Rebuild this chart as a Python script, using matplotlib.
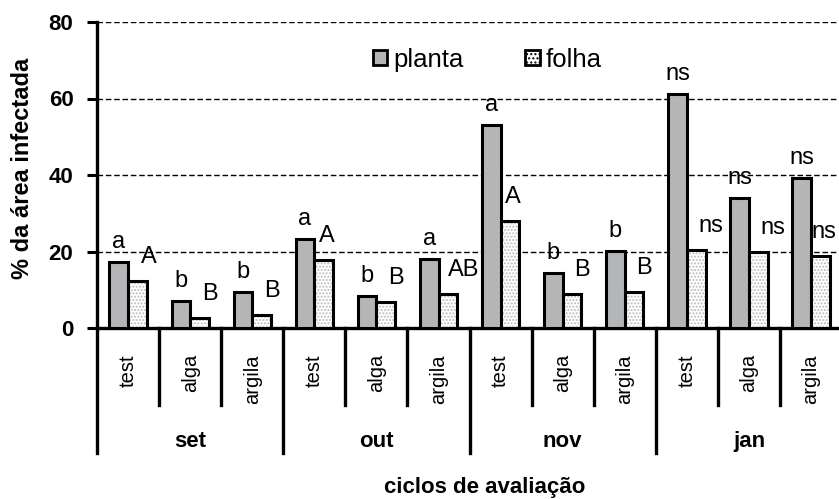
import numpy as np
import matplotlib.pyplot as plt
from matplotlib.patches import Patch

plt.rcParams['font.family'] = ['Liberation Sans', 'DejaVu Sans']

# dados
meses = ['set', 'out', 'nov', 'jan']
tratamentos = ['test', 'alga', 'argila']
planta = [17.3, 7.1, 9.4, 23.3, 8.4, 18.0, 53.1, 14.4, 20.1, 61.3, 34.0, 39.2]
folha = [12.3, 2.6, 3.4, 17.8, 6.7, 8.9, 28.0, 8.9, 9.3, 20.4, 19.8, 18.8]
letras_planta = ['a', 'b', 'b', 'a', 'b', 'a', 'a', 'b', 'b', 'ns', 'ns', 'ns']
letras_folha = ['A', 'B', 'B', 'A', 'B', 'AB', 'A', 'B', 'B', 'ns', 'ns', 'ns']
# ajuste horizontal das letras da folha (fracao da categoria)
desloc_folha = [0.06, 0.04, 0.04, -0.08, 0.04, 0.0, -0.08, 0.04, 0.04, 0.03, 0.03, -0.14]

cinza = '#b3b5b7'
n = len(planta)
x = np.arange(n) + 0.5
w = 0.3

fig = plt.figure(figsize=(8.39, 4.99), dpi=100)
ax = fig.add_axes([97/839, 171/499, 742/839, 306/499])

ax.bar(x - w/2, planta, w, color=cinza, edgecolor='black', linewidth=2.2, zorder=3)
# folha: textura clara por baixo, contorno preto por cima
ax.bar(x + w/2, folha, w, color='white', edgecolor='#bbbbbb', hatch='.....', linewidth=0, zorder=3)
ax.bar(x + w/2, folha, w, fill=False, edgecolor='black', linewidth=2.2, zorder=4)

for i in range(n):
    ax.text(x[i] - w/2, planta[i] + 3.6, letras_planta[i], ha='center', va='baseline', fontsize=17)
    ax.text(x[i] + w/2 + desloc_folha[i], folha[i] + 4.8, letras_folha[i], ha='left',
            va='baseline', fontsize=17, zorder=2)

ax.set_xlim(0, 11.95)
ax.set_ylim(0, 80)
ax.set_yticks([0, 20, 40, 60, 80])
ax.set_yticklabels(['0', '20', '40', '60', '80'], fontsize=16, fontweight='bold')
ax.set_xticks([])
ax.yaxis.grid(True, linestyle=(0, (4, 2)), color='black', linewidth=1)
ax.set_axisbelow(True)
ax.tick_params(axis='y', direction='out', length=7, width=2.2, pad=10)
for s in ['top', 'right']:
    ax.spines[s].set_visible(False)
ax.spines['left'].set_linewidth(2.4)
ax.spines['bottom'].set_linewidth(2.4)

# eixo x em dois niveis
tr = ax.get_xaxis_transform()
for k in range(n + 1):
    if k % 3 == 0:
        ax.plot([k, k], [0, -0.41], color='black', lw=2.4, transform=tr, clip_on=False)
    else:
        ax.plot([k, k], [0, -0.252], color='black', lw=2.4, transform=tr, clip_on=False)
for i in range(n):
    ax.text(x[i], -0.085, tratamentos[i % 3], rotation=90, ha='center', va='top',
            fontsize=14.5, transform=tr)
for j, m in enumerate(meses):
    ax.text(3*j + 1.5, -0.372, m, ha='center', va='center', fontsize=16,
            fontweight='bold', transform=tr)

fig.text(485/839, 1 - 487/499, 'ciclos de avaliação', ha='center', va='center',
         fontsize=16, fontweight='bold')
fig.text(23/839, 1 - 168/499, '% da área infectada', ha='center', va='center',
         rotation=90, fontsize=17, fontweight='bold')

handles = [Patch(facecolor=cinza, edgecolor='black', linewidth=2),
           Patch(facecolor='white', edgecolor='black', hatch='....', linewidth=2)]
ax.legend(handles, ['planta', 'folha'], ncol=2, loc='center left',
          bbox_to_anchor=(0.372, 0.877), frameon=False, fontsize=18.5,
          handlelength=0.55, handleheight=0.55, handletextpad=0.25,
          columnspacing=2.4, borderpad=0, borderaxespad=0)

fig.savefig('out.png', dpi=100)
